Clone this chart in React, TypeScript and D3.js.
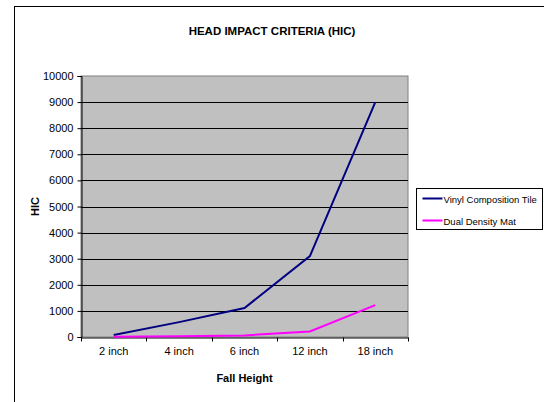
import React, { useEffect, useRef } from 'react';
import * as d3 from 'd3';

const categories = ['2 inch', '4 inch', '6 inch', '12 inch', '18 inch'];
const vinylValues = [80, 570, 1110, 3100, 9000];
const dualValues = [10, 30, 60, 210, 1220];
const yTicks = [0, 1000, 2000, 3000, 4000, 5000, 6000, 7000, 8000, 9000, 10000];

const seriesList = [
  { name: 'Vinyl Composition Tile', values: vinylValues, color: '#000080' },
  { name: 'Dual Density Mat', values: dualValues, color: '#ff00ff' },
];

const App: React.FC = () => {
  const svgRef = useRef<SVGSVGElement>(null);

  useEffect(() => {
    if (!svgRef.current) return;
    const svg = d3.select(svgRef.current);
    svg.selectAll('*').remove();

    const font = 'Arial, "Liberation Sans", sans-serif';
    const left = 81, right = 408, top = 76, bottom = 337;

    // outer chart frame
    svg.append('rect')
      .attr('x', 14.5).attr('y', 6.5)
      .attr('width', 600).attr('height', 500)
      .attr('fill', '#fff').attr('stroke', '#000');

    const x = d3.scaleBand<string>().domain(categories).range([left, right]);
    const y = d3.scaleLinear().domain([0, 10000]).range([bottom, top]);

    svg.append('rect')
      .attr('x', left).attr('y', top)
      .attr('width', right - left).attr('height', bottom - top)
      .attr('fill', '#c0c0c0').attr('stroke', '#808080');

    svg.append('g').selectAll('line')
      .data(yTicks.filter(t => t > 0 && t < 10000))
      .enter().append('line')
      .attr('x1', left).attr('x2', right)
      .attr('y1', d => Math.round(y(d)) + 0.5).attr('y2', d => Math.round(y(d)) + 0.5)
      .attr('stroke', '#000');

    const yAxis = svg.append('g')
      .attr('transform', `translate(${left + 0.5},0)`)
      .call(d3.axisLeft(y).tickValues(yTicks).tickSize(4).tickPadding(4).tickFormat(d3.format('d')));
    yAxis.selectAll('text').attr('font-family', font).attr('font-size', '11px').attr('fill', '#000');
    yAxis.selectAll('line, path').attr('stroke', '#000');

    const xAxis = svg.append('g')
      .attr('transform', `translate(0,${bottom + 0.5})`)
      .call(d3.axisBottom(x).tickSize(0).tickPadding(10));
    xAxis.selectAll('text').attr('font-family', font).attr('font-size', '11px').attr('fill', '#000');
    xAxis.select('path').attr('stroke', '#000');
    const bounds = categories.map(c => x(c) as number).concat([right]);
    xAxis.selectAll('.edge').data(bounds).enter().append('line')
      .attr('x1', d => Math.round(d) + 0.5).attr('x2', d => Math.round(d) + 0.5)
      .attr('y1', 0).attr('y2', 4).attr('stroke', '#000');

    const line = d3.line<number>()
      .x((_d, i) => (x(categories[i]) as number) + x.bandwidth() / 2)
      .y(d => y(d));

    seriesList.forEach(s => {
      svg.append('path')
        .datum(s.values)
        .attr('d', line)
        .attr('fill', 'none')
        .attr('stroke', s.color)
        .attr('stroke-width', 2);
    });

    svg.append('text')
      .attr('x', 272).attr('y', 35)
      .attr('text-anchor', 'middle')
      .attr('font-family', font).attr('font-weight', 'bold').attr('font-size', '11.5px')
      .text('HEAD IMPACT CRITERIA (HIC)');

    svg.append('text')
      .attr('transform', `translate(39,${(top + bottom) / 2}) rotate(-90)`)
      .attr('text-anchor', 'middle')
      .attr('font-family', font).attr('font-weight', 'bold').attr('font-size', '11px')
      .text('HIC');

    svg.append('text')
      .attr('x', (left + right) / 2).attr('y', 382)
      .attr('text-anchor', 'middle')
      .attr('font-family', font).attr('font-weight', 'bold').attr('font-size', '11px')
      .text('Fall Height');

    const legend = svg.append('g').attr('transform', 'translate(416.5,188.5)');
    legend.append('rect')
      .attr('width', 126).attr('height', 41)
      .attr('fill', '#fff').attr('stroke', '#000');
    seriesList.forEach((s, i) => {
      const ly = 10 + i * 22;
      legend.append('line')
        .attr('x1', 6).attr('x2', 26).attr('y1', ly).attr('y2', ly)
        .attr('stroke', s.color).attr('stroke-width', 2);
      legend.append('text')
        .attr('x', 27).attr('y', ly + 4)
        .attr('font-family', font).attr('font-size', '9.5px')
        .text(s.name);
    });
  }, []);

  return (
    <svg ref={svgRef} width={544} height={402}
      style={{ position: 'absolute', left: 0, top: 0, background: '#fff' }} />
  );
};

export default App;
